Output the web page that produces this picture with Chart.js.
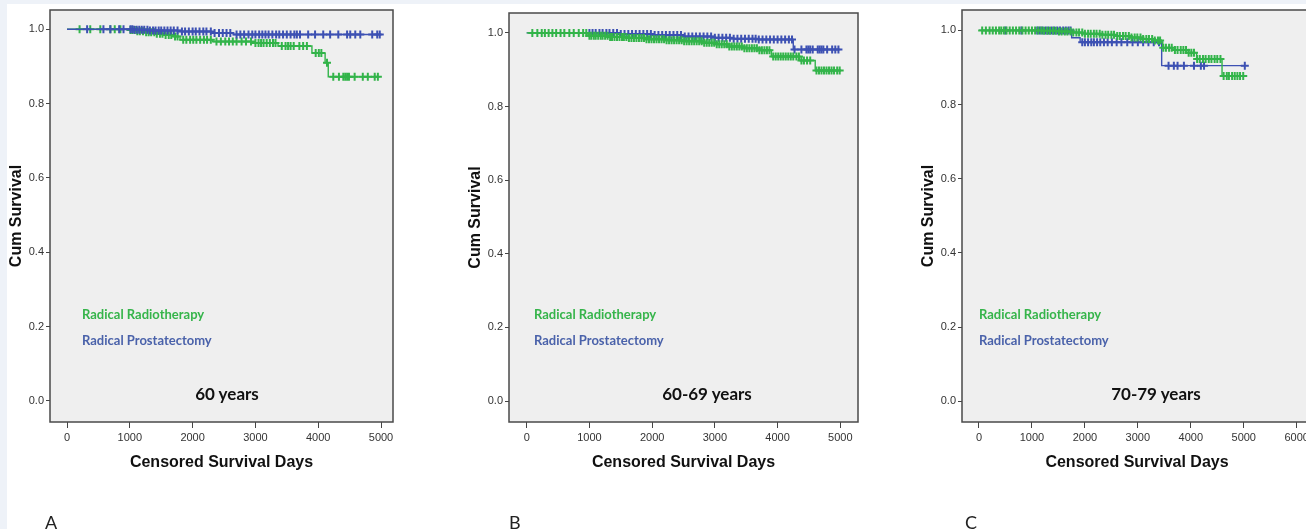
<!DOCTYPE html>
<html>
<head>
<meta charset="utf-8">
<script src="https://cdn.jsdelivr.net/npm/chart.js@4.4.1/dist/chart.umd.min.js"></script>
<style>
  html, body { margin: 0; padding: 0; background: #fff; }
  body { width: 1306px; height: 529px; position: relative; overflow: hidden; }
  canvas { position: absolute; top: 0; }
  .strip { position: absolute; background: #eef2f8; }
  .txt { position: absolute; white-space: nowrap; font-family: Lato, "Open Sans", sans-serif; }
  .leg { font-size: 13px; font-weight: bold; line-height: 16px; }
  .sub { font-size: 17px; font-weight: bold; color: #111; line-height: 20px; transform: translateX(-50%); }
  .letter { font-size: 18px; color: #222; line-height: 20px; }
</style>
</head>
<body>
<div class="strip" style="left:0;top:0;width:7px;height:529px"></div>
<div class="strip" style="left:0;top:0;width:1306px;height:4px"></div>

<canvas id="chartA" width="400" height="529" style="left:0"></canvas>
<canvas id="chartB" width="410" height="529" style="left:459px"></canvas>
<canvas id="chartC" width="410" height="529" style="left:912px"></canvas>

<div class="txt leg" style="left:82px;top:306px;color:#35b44a">Radical Radiotherapy</div>
<div class="txt leg" style="left:82px;top:332px;color:#4a62aa">Radical Prostatectomy</div>
<div class="txt leg" style="left:534px;top:306px;color:#35b44a">Radical Radiotherapy</div>
<div class="txt leg" style="left:534px;top:332px;color:#4a62aa">Radical Prostatectomy</div>
<div class="txt leg" style="left:979px;top:306px;color:#35b44a">Radical Radiotherapy</div>
<div class="txt leg" style="left:979px;top:332px;color:#4a62aa">Radical Prostatectomy</div>

<div class="txt sub" style="left:227px;top:384px">60 years</div>
<div class="txt sub" style="left:707px;top:384px">60-69 years</div>
<div class="txt sub" style="left:1156px;top:384px">70-79 years</div>

<div class="txt letter" style="left:45px;top:512px">A</div>
<div class="txt letter" style="left:509px;top:512px">B</div>
<div class="txt letter" style="left:965px;top:512px">C</div>

<script>
// tick labels
const yTicks = [0.0, 0.2, 0.4, 0.6, 0.8, 1.0];
const xTicks5 = [0, 1000, 2000, 3000, 4000, 5000];
const xTicks6 = [0, 1000, 2000, 3000, 4000, 5000, 6000];

// A - 60 years
const rtA_time = [0, 1000, 1100, 1250, 1400, 1550, 1700, 1800, 2320, 2960, 3360, 3900, 4110, 4160, 4980];
const rtA_surv = [1.0, 0.998, 0.995, 0.992, 0.988, 0.985, 0.981, 0.972, 0.967, 0.963, 0.955, 0.936, 0.91, 0.872, 0.872];
const rtA_cens = [200, 370, 530, 690, 760, 850, 1010, 1040, 1080, 1120, 1160, 1210, 1260, 1300, 1340, 1390, 1430, 1480, 1520, 1570, 1620, 1660, 1720, 1760, 1850, 1900, 1960, 2010, 2060, 2120, 2180, 2230, 2290, 2380, 2450, 2520, 2580, 2640, 2700, 2780, 2850, 2930, 3000, 3050, 3090, 3130, 3180, 3230, 3280, 3320, 3420, 3480, 3520, 3560, 3610, 3700, 3760, 3820, 3960, 4010, 4050, 4140, 4240, 4330, 4400, 4430, 4460, 4490, 4580, 4710, 4790, 4900, 4950];
const rpA_time = [0, 1050, 1300, 1800, 2300, 2650, 5010];
const rpA_surv = [1.0, 0.999, 0.997, 0.994, 0.99, 0.986, 0.986];
const rpA_cens = [320, 580, 690, 830, 900, 1010, 1040, 1070, 1110, 1150, 1190, 1230, 1280, 1320, 1370, 1410, 1460, 1500, 1550, 1600, 1650, 1700, 1760, 1830, 1880, 1940, 2000, 2050, 2110, 2170, 2220, 2290, 2350, 2420, 2480, 2540, 2600, 2700, 2760, 2820, 2890, 2950, 3000, 3060, 3110, 3160, 3210, 3270, 3330, 3380, 3440, 3500, 3560, 3620, 3660, 3710, 3840, 3950, 4080, 4190, 4320, 4460, 4510, 4590, 4670, 4860, 4940, 4980];

// B - 60-69 years
const rtB_time = [0, 960, 1000, 1300, 1600, 1900, 2200, 2500, 2800, 3000, 3200, 3450, 3700, 3900, 4350, 4600, 5000];
const rtB_surv = [1.0, 0.997, 0.992, 0.989, 0.986, 0.983, 0.98, 0.977, 0.973, 0.969, 0.963, 0.958, 0.953, 0.936, 0.925, 0.898, 0.898];
const rtB_cens = [90, 170, 240, 290, 350, 410, 470, 540, 600, 680, 750, 830, 900, 950, 1000, 1030, 1070, 1100, 1140, 1180, 1210, 1250, 1290, 1330, 1360, 1400, 1440, 1480, 1520, 1550, 1590, 1630, 1670, 1710, 1750, 1790, 1830, 1870, 1910, 1950, 1990, 2030, 2070, 2110, 2150, 2190, 2230, 2270, 2310, 2350, 2390, 2430, 2470, 2510, 2550, 2590, 2630, 2670, 2710, 2750, 2790, 2830, 2870, 2910, 2950, 2990, 3030, 3070, 3110, 3150, 3190, 3230, 3270, 3310, 3350, 3390, 3430, 3470, 3510, 3550, 3590, 3630, 3670, 3710, 3750, 3790, 3830, 3870, 3930, 3970, 4010, 4050, 4090, 4130, 4170, 4210, 4250, 4300, 4340, 4380, 4420, 4470, 4520, 4620, 4660, 4700, 4740, 4780, 4820, 4860, 4900, 4950, 4990];
const rpB_time = [0, 1000, 1500, 2000, 2500, 3000, 3300, 3700, 4250, 5000];
const rpB_surv = [1.0, 1.0, 0.997, 0.994, 0.99, 0.987, 0.984, 0.982, 0.955, 0.955];
const rpB_cens = [1000, 1050, 1100, 1160, 1210, 1270, 1320, 1380, 1440, 1500, 1560, 1620, 1680, 1740, 1800, 1860, 1920, 1980, 2040, 2100, 2160, 2220, 2280, 2340, 2400, 2460, 2520, 2580, 2640, 2700, 2760, 2820, 2880, 2940, 3000, 3060, 3120, 3180, 3240, 3300, 3360, 3420, 3480, 3540, 3600, 3650, 3700, 3760, 3820, 3880, 3940, 4000, 4060, 4120, 4180, 4230, 4270, 4380, 4460, 4490, 4520, 4560, 4640, 4670, 4700, 4730, 4790, 4870, 4920, 4970];

// C - 70-79 years
const rtC_time = [0, 1200, 1500, 1750, 2000, 2300, 2600, 2850, 3100, 3300, 3430, 3470, 3700, 3920, 4110, 4590, 4990];
const rtC_surv = [1.0, 0.999, 0.997, 0.994, 0.991, 0.988, 0.985, 0.981, 0.977, 0.973, 0.968, 0.953, 0.947, 0.94, 0.923, 0.877, 0.877];
const rtC_cens = [60, 130, 200, 260, 320, 380, 420, 470, 520, 580, 640, 700, 760, 820, 880, 940, 1000, 1060, 1120, 1180, 1230, 1290, 1340, 1400, 1450, 1510, 1560, 1620, 1670, 1730, 1780, 1840, 1890, 1950, 2000, 2060, 2110, 2170, 2220, 2280, 2330, 2390, 2440, 2500, 2550, 2610, 2660, 2720, 2770, 2830, 2880, 2940, 2990, 3050, 3100, 3160, 3210, 3270, 3320, 3380, 3420, 3480, 3530, 3590, 3640, 3700, 3750, 3810, 3860, 3910, 3960, 4010, 4060, 4120, 4170, 4230, 4280, 4340, 4390, 4450, 4500, 4560, 4620, 4680, 4720, 4780, 4830, 4880, 4930, 4990];
const rpC_time = [0, 1750, 1910, 3450, 5020];
const rpC_surv = [1.0, 0.98, 0.968, 0.905, 0.905];
const rpC_cens = [500, 800, 1100, 1150, 1200, 1260, 1310, 1370, 1420, 1480, 1530, 1590, 1640, 1690, 1730, 1950, 2000, 2060, 2120, 2170, 2230, 2290, 2360, 2430, 2510, 2600, 2690, 2800, 2900, 3000, 3100, 3200, 3300, 3400, 3580, 3680, 3750, 3870, 4060, 4190, 4250, 5020];

const GREEN = '#33b44a';
const BLUE = '#3d51b3';

// value of the step curve at time t (for placing censor marks)
function survAt(times, surv, t) {
    let s = surv[0];
    for (let i = 0; i < times.length; i++) {
        if (times[i] <= t) s = surv[i];
    }
    return s;
}

function curve(times, surv, color, order) {
    return {
        data: times.map((t, i) => ({ x: t, y: surv[i] })),
        showLine: true,
        stepped: true,
        borderColor: color,
        borderWidth: 1.4,
        pointRadius: 0,
        order: order
    };
}

function marks(cens, times, surv, color, order) {
    return {
        data: cens.map(t => ({ x: t, y: survAt(times, surv, t) })),
        showLine: false,
        pointStyle: 'cross',
        pointRadius: 4,
        borderColor: color,
        borderWidth: 2,
        backgroundColor: color,
        order: order
    };
}

const framePlugin = {
    id: 'frame',
    beforeDraw(chart) {
        const a = chart.chartArea;
        const ctx = chart.ctx;
        ctx.save();
        ctx.fillStyle = '#efefef';
        ctx.fillRect(a.left, a.top, a.right - a.left, a.bottom - a.top);
        ctx.restore();
    },
    afterDraw(chart) {
        const a = chart.chartArea;
        const ctx = chart.ctx;
        ctx.save();
        ctx.strokeStyle = '#4a4a4a';
        ctx.lineWidth = 1.5;
        ctx.strokeRect(a.left, a.top, a.right - a.left, a.bottom - a.top);
        ctx.restore();
    }
};

const tickFont = { family: '"Liberation Sans", Arial, sans-serif', size: 11 };
const titleFont = { family: '"Liberation Sans", Arial, sans-serif', size: 16, weight: 'bold' };

function makePanel(id, p) {
    const ctx = document.getElementById(id).getContext('2d');
    new Chart(ctx, {
        type: 'scatter',
        data: {
            datasets: [
                curve(p.rpTime, p.rpSurv, BLUE, p.blueOrder),
                marks(p.rpCens, p.rpTime, p.rpSurv, BLUE, p.blueOrder),
                curve(p.rtTime, p.rtSurv, GREEN, p.greenOrder),
                marks(p.rtCens, p.rtTime, p.rtSurv, GREEN, p.greenOrder)
            ]
        },
        options: {
            responsive: false,
            animation: false,
            layout: { padding: { top: p.top, right: p.right, left: 0, bottom: 0 } },
            plugins: { legend: { display: false }, tooltip: { enabled: false } },
            scales: {
                x: {
                    type: 'linear',
                    min: p.xMin,
                    max: p.xMax,
                    afterBuildTicks: s => { s.ticks = p.xTicks.map(v => ({ value: v })); },
                    afterFit: s => { s.height = 107; },
                    grid: { drawOnChartArea: false, drawTicks: true, tickLength: 6, color: '#444' },
                    border: { display: false },
                    ticks: { font: tickFont, color: '#333', padding: 3, maxRotation: 0, callback: v => String(v) },
                    title: { display: true, text: 'Censored Survival Days', font: titleFont, color: '#111', padding: { top: 0, bottom: 57 } }
                },
                y: {
                    type: 'linear',
                    min: p.yMin,
                    max: p.yMax,
                    afterBuildTicks: s => { s.ticks = yTicks.map(v => ({ value: v })); },
                    afterFit: s => { s.width = 50; },
                    grid: { drawOnChartArea: false, drawTicks: true, tickLength: 4, color: '#444' },
                    border: { display: false },
                    ticks: { font: tickFont, color: '#333', padding: 2, callback: v => v.toFixed(1) },
                    title: { display: true, text: 'Cum Survival', font: titleFont, color: '#111', padding: { top: 7, bottom: 0 } }
                }
            }
        },
        plugins: [framePlugin]
    });
}

makePanel('chartA', {
    rtTime: rtA_time, rtSurv: rtA_surv, rtCens: rtA_cens,
    rpTime: rpA_time, rpSurv: rpA_surv, rpCens: rpA_cens,
    blueOrder: 0, greenOrder: 1,
    xMin: -271, xMax: 5191, xTicks: xTicks5,
    yMin: -0.057, yMax: 1.052, top: 10, right: 7
});
makePanel('chartB', {
    rtTime: rtB_time, rtSurv: rtB_surv, rtCens: rtB_cens,
    rpTime: rpB_time, rpSurv: rpB_surv, rpCens: rpB_cens,
    blueOrder: 1, greenOrder: 0,
    xMin: -282, xMax: 5282, xTicks: xTicks5,
    yMin: -0.057, yMax: 1.054, top: 13, right: 11
});
makePanel('chartC', {
    rtTime: rtC_time, rtSurv: rtC_surv, rtCens: rtC_cens,
    rpTime: rpC_time, rpSurv: rpC_surv, rpCens: rpC_cens,
    blueOrder: 1, greenOrder: 0,
    xMin: -321, xMax: 6289, xTicks: xTicks6,
    yMin: -0.056, yMax: 1.055, top: 10, right: 10
});
</script>
</body>
</html>
